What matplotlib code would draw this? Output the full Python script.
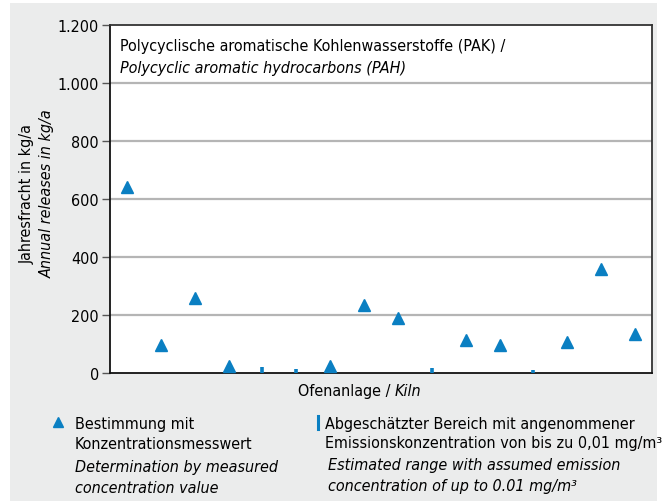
import numpy as np
import matplotlib
matplotlib.use("Agg")
import matplotlib.pyplot as plt
from matplotlib.patches import Rectangle

# Ofenanlagen 1..16
kilns = np.arange(1, 17)
# Bestimmung mit Konzentrationsmesswert (kg/a), nan = kein Messwert
measured = [641, 95, 260, 23, np.nan, np.nan, 23, 234, 189, np.nan, 113, 96, np.nan, 108, 358, 133]
# Abgeschätzter Bereich (obere Grenze, kg/a)
estimated = [np.nan, np.nan, np.nan, np.nan, 20, 13, np.nan, np.nan, np.nan, 16, np.nan, np.nan, 11, np.nan, np.nan, np.nan]
yticks = [0, 200, 400, 600, 800, 1000, 1200]
ytick_labels = ["0", "200", "400", "600", "800", "1.000", "1.200"]

plt.rcParams["font.family"] = ["DejaVu Sans"]
plt.rcParams["font.stretch"] = "condensed"
blue = "#0a7fc2"
panel = "#ebecec"
fs = 11.5

fig = plt.figure(figsize=(6.64, 5.02), dpi=100)
fig.patches.append(Rectangle((10/664, 0), 647/664, 498/502, transform=fig.transFigure,
                             facecolor=panel, edgecolor="none", zorder=-5))
ax = fig.add_axes([110/664, 1-374/502, 542/664, 348/502])
ax.set_facecolor("white")

ax.plot(kilns, measured, linestyle="none", marker="^", markersize=8, color=blue, zorder=3)
est = np.array(estimated)
ax.vlines(kilns, 0, est, colors=blue, linewidth=2.6, zorder=3)

ax.set_xlim(0.5, 16.5)
ax.set_ylim(0, 1200)
ax.set_yticks(yticks)
ax.set_yticklabels(ytick_labels, fontsize=fs)
ax.set_xticks([])
for v in yticks[1:-1]:
    ax.axhline(v, color="#b5b5b5", linewidth=1.6, zorder=1)
ax.tick_params(axis="y", length=6, width=1, color="#555555", pad=2)
for s in ["left", "bottom"]:
    ax.spines[s].set_color("#111111")
    ax.spines[s].set_linewidth(1.3)
for s in ["top", "right"]:
    ax.spines[s].set_color("#333333")
    ax.spines[s].set_linewidth(1.3)

ax.text(0.018, 0.962, "Polycyclische aromatische Kohlenwasserstoffe (PAK) /",
        transform=ax.transAxes, fontsize=fs, va="top", ha="left")
ax.text(0.018, 0.899, "Polycyclic aromatic hydrocarbons (PAH)",
        transform=ax.transAxes, fontsize=fs, va="top", ha="left", style="italic")

# Achsentitel
fig.text(27/664, 1-194/502, "Jahresfracht in kg/a", rotation=90, fontsize=fs, ha="center", va="center")
fig.text(47/664, 1-194/502, "Annual releases in kg/a", rotation=90, fontsize=fs, ha="center", va="center", style="italic")
fig.text(395/664, 1-392/502, "Ofenanlage / ", fontsize=fs, ha="right", va="center")
fig.text(395/664, 1-392/502, "Kiln", fontsize=fs, ha="left", va="center", style="italic")

# Legende
fig.lines.append(plt.Line2D([58/664], [1-423/502], marker="^", markersize=6.5, color=blue,
                            linestyle="none", transform=fig.transFigure))
fig.text(75/664, 1-424/502, "Bestimmung mit", fontsize=fs, va="center")
fig.text(75/664, 1-445/502, "Konzentrationsmesswert", fontsize=fs, va="center")
fig.text(75/664, 1-468/502, "Determination by measured", fontsize=fs, va="center", style="italic")
fig.text(75/664, 1-489/502, "concentration value", fontsize=fs, va="center", style="italic")

fig.lines.append(plt.Line2D([318/664, 318/664], [1-430/502, 1-417/502], color=blue, linewidth=2.2,
                            transform=fig.transFigure))
fig.text(325/664, 1-424/502, "Abgeschätzter Bereich mit angenommener", fontsize=fs, va="center")
fig.text(325/664, 1-444/502, "Emissionskonzentration von bis zu 0,01 mg/m³", fontsize=fs, va="center")
fig.text(328/664, 1-466/502, "Estimated range with assumed emission", fontsize=fs, va="center", style="italic")
fig.text(328/664, 1-487/502, "concentration of up to 0.01 mg/m³", fontsize=fs, va="center", style="italic")

fig.savefig("out.png", dpi=100)
